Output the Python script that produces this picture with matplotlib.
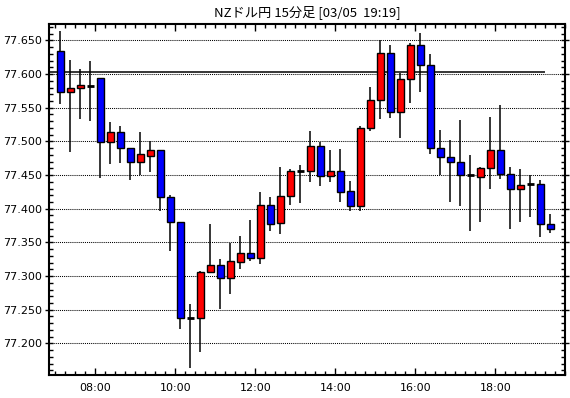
import matplotlib
matplotlib.use("Agg")
import matplotlib.pyplot as plt
from matplotlib.ticker import MultipleLocator, FuncFormatter
import numpy as np
import pandas as pd

# ---- data ----
start_time = "07:00"
n_bars = 50
opens = [77.634, 77.574, 77.579, 77.582, 77.594, 77.499, 77.5135, 77.490, 77.470, 77.479,
         77.487, 77.417, 77.380, 77.2375, 77.2375, 77.306, 77.317, 77.297, 77.3206, 77.334,
         77.3274, 77.4056, 77.3785, 77.4185, 77.4556, 77.4556, 77.4927, 77.448, 77.4556, 77.427,
         77.4046, 77.5194, 77.5614, 77.631, 77.543, 77.592, 77.6426, 77.613, 77.490, 77.4764,
         77.470, 77.4495, 77.4467, 77.460, 77.4868, 77.451, 77.429, 77.437, 77.4364, 77.377]
highs = [77.664, 77.621, 77.607, 77.620, 77.594, 77.529, 77.523, 77.490, 77.5135, 77.500,
         77.488, 77.4205, 77.380, 77.259, 77.308, 77.378, 77.3255, 77.349, 77.3596, 77.383,
         77.425, 77.4175, 77.4625, 77.459, 77.465, 77.5154, 77.4996, 77.487, 77.4887, 77.441,
         77.523, 77.5807, 77.650, 77.643, 77.601, 77.6455, 77.661, 77.6297, 77.5165, 77.502,
         77.5317, 77.480, 77.4625, 77.5366, 77.554, 77.4625, 77.459, 77.4497, 77.4427, 77.392]
lows = [77.556, 77.485, 77.534, 77.531, 77.446, 77.467, 77.468, 77.442, 77.450, 77.455,
        77.397, 77.337, 77.222, 77.163, 77.1875, 77.306, 77.251, 77.274, 77.310, 77.323,
        77.3185, 77.3675, 77.363, 77.406, 77.409, 77.440, 77.434, 77.439, 77.410, 77.397,
        77.397, 77.516, 77.5337, 77.535, 77.5046, 77.5565, 77.574, 77.4818, 77.450, 77.4105,
        77.4046, 77.3675, 77.380, 77.429, 77.4438, 77.3705, 77.380, 77.388, 77.3586, 77.3645]
closes = [77.574, 77.579, 77.584, 77.582, 77.499, 77.5135, 77.490, 77.470, 77.481, 77.487,
          77.417, 77.380, 77.2375, 77.2375, 77.306, 77.316, 77.297, 77.322, 77.334, 77.3274,
          77.4056, 77.377, 77.4185, 77.4556, 77.4556, 77.4927, 77.448, 77.4556, 77.4254, 77.4046,
          77.5194, 77.5614, 77.631, 77.543, 77.592, 77.6426, 77.613, 77.490, 77.4764, 77.470,
          77.4497, 77.4495, 77.460, 77.4868, 77.451, 77.429, 77.4353, 77.437, 77.377, 77.3696]
ref_line = 77.6025
title = "NZドル円 15分足 [03/05  19:19]"
y_ticks = [77.200, 77.250, 77.300, 77.350, 77.400, 77.450, 77.500, 77.550, 77.600, 77.650]
x_tick_labels = ["08:00", "10:00", "12:00", "14:00", "16:00", "18:00"]

# ---- figure ----
plt.rcParams['font.family'] = ['DejaVu Sans']
fig = plt.figure(figsize=(5.70, 3.98), dpi=100)
ax = fig.add_axes([49.3 / 570, 1 - 375 / 398, (565.3 - 49.3) / 570, (375 - 24.3) / 398])

times = pd.date_range("2024-03-05 " + start_time, periods=n_bars, freq="15min")
xmin = times.hour * 60 + times.minute
x = np.asarray(xmin, dtype=float) + 7.5

o = np.array(opens); c = np.array(closes); h = np.array(highs); l = np.array(lows)

ax.vlines(x, l, h, color="black", linewidth=1.1, zorder=3)
body_w = 10.0
up = c > o
dn = c < o
dj = c == o
ax.bar(x[up], (c - o)[up], bottom=o[up], width=body_w, color="#ff0000",
       edgecolor="black", linewidth=1.0, zorder=4)
ax.bar(x[dn], (o - c)[dn], bottom=c[dn], width=body_w, color="#0000ff",
       edgecolor="black", linewidth=1.0, zorder=4)
ax.hlines(c[dj], x[dj] - body_w / 2, x[dj] + body_w / 2, color="black", linewidth=2, zorder=4)

# reference line
ax.hlines(ref_line, 411, xmin[-1], color="black", linewidth=1.1, zorder=2)

ax.set_xlim(411, 1185)
ax.set_ylim(77.153, 77.674)

ax.set_yticks(y_ticks)
ax.yaxis.set_major_formatter(FuncFormatter(lambda v, p: f"{v:.3f}"))
ax.yaxis.set_minor_locator(MultipleLocator(0.01))
tick_pos = [int(s[:2]) * 60 + int(s[3:]) for s in x_tick_labels]
ax.set_xticks(tick_pos)
ax.set_xticklabels(x_tick_labels)
ax.xaxis.set_minor_locator(MultipleLocator(15))

ax.tick_params(axis="both", which="both", direction="in", top=True, right=True,
               labelsize=8, color="black", width=1)
ax.tick_params(axis="x", which="major", length=5, pad=6)
ax.tick_params(axis="x", which="minor", length=3)
ax.tick_params(axis="y", which="major", direction="inout", length=6, pad=2)
ax.tick_params(axis="y", which="minor", length=3)

ax.grid(True, axis="y", which="major", linestyle=(0, (1, 1)), color="black", linewidth=0.75)
ax.set_axisbelow(True)
for s in ax.spines.values():
    s.set_linewidth(1.5)

fig.text((49.3 + 565.3) / 2 / 570, 1 - 12 / 398, title, ha="center", va="center",
         fontsize=9.5, family=["Noto Sans CJK JP", "DejaVu Sans"])

fig.savefig("out.png", dpi=100, facecolor="white")
